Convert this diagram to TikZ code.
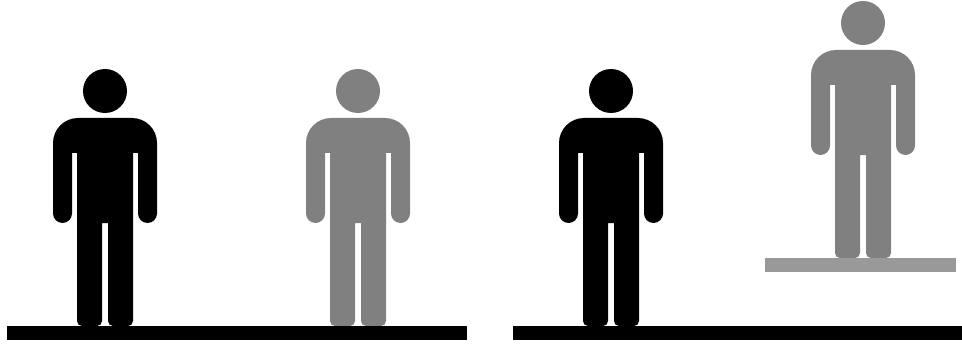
\documentclass[tikz,border=0pt]{standalone}
\definecolor{cInk}{HTML}{000000}
\definecolor{cRaised}{HTML}{808080}
\definecolor{cStand}{HTML}{999999}
\tikzset{
  x=0.5pt, y=0.5pt,
  slab/.style={fill=#1, draw=none},
  pics/person/.style={code={
    \fill[#1] (0,235) circle[radius=22];
    \fill[#1] (-52,183) arc[start angle=180,end angle=90,radius=25] -- (27,208)
      arc[start angle=90,end angle=0,radius=25] -- (52,112.5)
      arc[start angle=0,end angle=-180,radius=9.5] -- (33,173) -- (28,173) -- (28,5)
      arc[start angle=0,end angle=-90,radius=5] -- (8,0)
      arc[start angle=-90,end angle=-180,radius=5] -- (3,103) -- (-3,103) -- (-3,5)
      arc[start angle=0,end angle=-90,radius=5] -- (-23,0)
      arc[start angle=-90,end angle=-180,radius=5] -- (-28,173) -- (-33,173) -- (-33,112.5)
      arc[start angle=0,end angle=-180,radius=9.5] -- cycle;
  }},
}
\begin{document}
\begin{tikzpicture}
\useasboundingbox (0,0) rectangle (962,343);
% left pair
\pic at (105,17) {person=cInk};
\pic at (358,17) {person=cRaised};
\fill[slab=cInk] (7,3) rectangle (467,17);
% right pair
\pic at (611,17) {person=cInk};
\pic at (863,85) {person=cRaised};
\fill[slab=cInk] (513,3) rectangle (962,17);
\fill[slab=cStand] (765,71) rectangle (956,85);
\end{tikzpicture}
\end{document}
